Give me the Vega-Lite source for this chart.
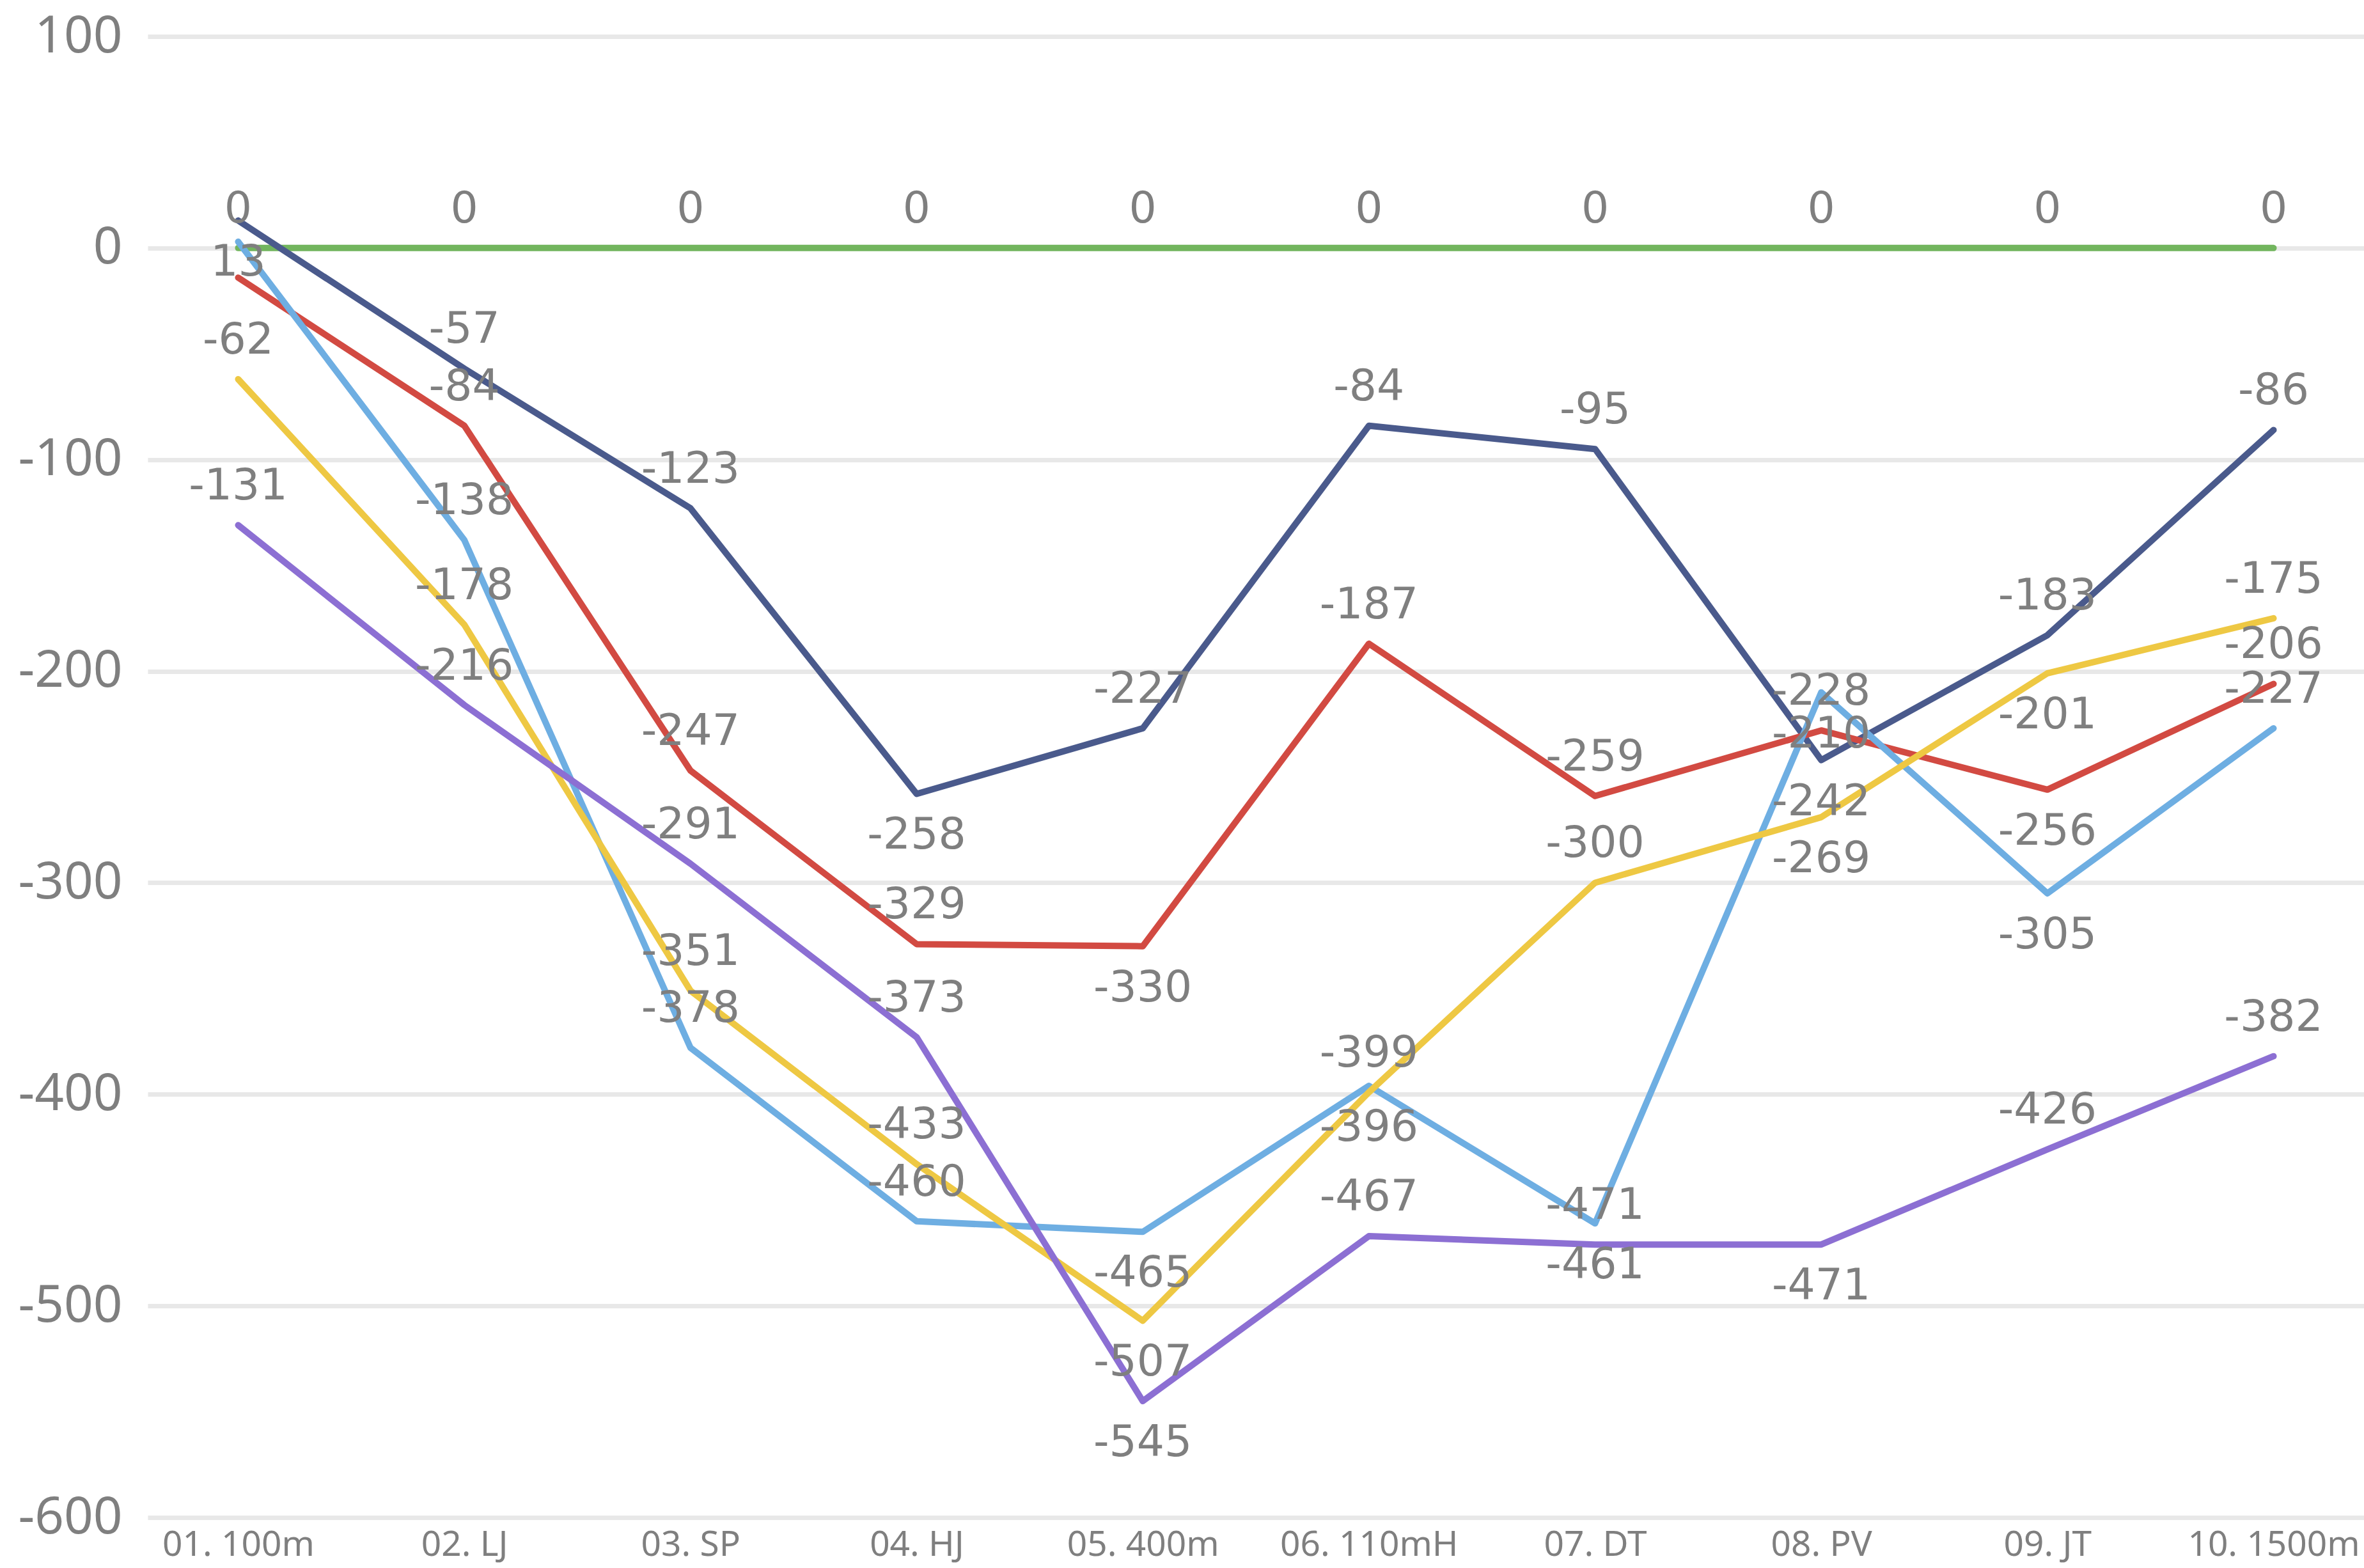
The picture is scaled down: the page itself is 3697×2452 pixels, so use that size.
{
  "$schema": "https://vega.github.io/schema/vega-lite/v6.json",
  "autosize": {"type": "none"},
  "width": 3466,
  "height": 2316,
  "padding": {"left": 231, "top": 57, "right": 0, "bottom": 79},
  "background": "white",
  "config": {"view": {"stroke": null}},
  "data": {"values": [
    {"event": "01. 100m", "series": "Series 1", "value": 0},
    {"event": "02. LJ", "series": "Series 1", "value": 0},
    {"event": "03. SP", "series": "Series 1", "value": 0},
    {"event": "04. HJ", "series": "Series 1", "value": 0},
    {"event": "05. 400m", "series": "Series 1", "value": 0},
    {"event": "06. 110mH", "series": "Series 1", "value": 0},
    {"event": "07. DT", "series": "Series 1", "value": 0},
    {"event": "08. PV", "series": "Series 1", "value": 0},
    {"event": "09. JT", "series": "Series 1", "value": 0},
    {"event": "10. 1500m", "series": "Series 1", "value": 0},
    {"event": "01. 100m", "series": "Series 2", "value": 13},
    {"event": "02. LJ", "series": "Series 2", "value": -57},
    {"event": "03. SP", "series": "Series 2", "value": -123},
    {"event": "04. HJ", "series": "Series 2", "value": -258},
    {"event": "05. 400m", "series": "Series 2", "value": -227},
    {"event": "06. 110mH", "series": "Series 2", "value": -84},
    {"event": "07. DT", "series": "Series 2", "value": -95},
    {"event": "08. PV", "series": "Series 2", "value": -242},
    {"event": "09. JT", "series": "Series 2", "value": -183},
    {"event": "10. 1500m", "series": "Series 2", "value": -86},
    {"event": "01. 100m", "series": "Series 3", "value": -14},
    {"event": "02. LJ", "series": "Series 3", "value": -84},
    {"event": "03. SP", "series": "Series 3", "value": -247},
    {"event": "04. HJ", "series": "Series 3", "value": -329},
    {"event": "05. 400m", "series": "Series 3", "value": -330},
    {"event": "06. 110mH", "series": "Series 3", "value": -187},
    {"event": "07. DT", "series": "Series 3", "value": -259},
    {"event": "08. PV", "series": "Series 3", "value": -228},
    {"event": "09. JT", "series": "Series 3", "value": -256},
    {"event": "10. 1500m", "series": "Series 3", "value": -206},
    {"event": "01. 100m", "series": "Series 4", "value": 3},
    {"event": "02. LJ", "series": "Series 4", "value": -138},
    {"event": "03. SP", "series": "Series 4", "value": -378},
    {"event": "04. HJ", "series": "Series 4", "value": -460},
    {"event": "05. 400m", "series": "Series 4", "value": -465},
    {"event": "06. 110mH", "series": "Series 4", "value": -396},
    {"event": "07. DT", "series": "Series 4", "value": -461},
    {"event": "08. PV", "series": "Series 4", "value": -210},
    {"event": "09. JT", "series": "Series 4", "value": -305},
    {"event": "10. 1500m", "series": "Series 4", "value": -227},
    {"event": "01. 100m", "series": "Series 5", "value": -62},
    {"event": "02. LJ", "series": "Series 5", "value": -178},
    {"event": "03. SP", "series": "Series 5", "value": -351},
    {"event": "04. HJ", "series": "Series 5", "value": -433},
    {"event": "05. 400m", "series": "Series 5", "value": -507},
    {"event": "06. 110mH", "series": "Series 5", "value": -399},
    {"event": "07. DT", "series": "Series 5", "value": -300},
    {"event": "08. PV", "series": "Series 5", "value": -269},
    {"event": "09. JT", "series": "Series 5", "value": -201},
    {"event": "10. 1500m", "series": "Series 5", "value": -175},
    {"event": "01. 100m", "series": "Series 6", "value": -131},
    {"event": "02. LJ", "series": "Series 6", "value": -216},
    {"event": "03. SP", "series": "Series 6", "value": -291},
    {"event": "04. HJ", "series": "Series 6", "value": -373},
    {"event": "05. 400m", "series": "Series 6", "value": -545},
    {"event": "06. 110mH", "series": "Series 6", "value": -467},
    {"event": "07. DT", "series": "Series 6", "value": -471},
    {"event": "08. PV", "series": "Series 6", "value": -471},
    {"event": "09. JT", "series": "Series 6", "value": -426},
    {"event": "10. 1500m", "series": "Series 6", "value": -382}
  ]},
  "transform": [
    {"calculate": "datum.series + '|' + datum.event", "as": "key"},
    {"calculate": "'' + datum.value", "as": "label"}
  ],
  "encoding": {
    "x": {
      "field": "event", "type": "ordinal",
      "scale": {"type": "point", "padding": 0.4},
      "axis": {"title": null, "labelAngle": 0, "labelFont": "Noto Sans", "labelFontSize": 55, "labelColor": "#7f7f7f", "labelLimit": 0, "ticks": false, "domain": false, "grid": false, "labelPadding": 16}
    },
    "y": {
      "field": "value", "type": "quantitative",
      "scale": {"domain": [-600, 100], "nice": false, "zero": false},
      "axis": {"title": null, "values": [-600, -500, -400, -300, -200, -100, 0, 100], "labelExpr": "'' + datum.value", "labelFont": "Noto Sans", "labelFontSize": 80, "labelColor": "#7f7f7f", "ticks": false, "domain": false, "grid": true, "gridColor": "#e8e8e8", "gridWidth": 7, "labelPadding": 40}
    }
  },
  "layer": [
    {
      "mark": {"type": "line", "strokeWidth": 10, "strokeCap": "round", "strokeJoin": "round"},
      "encoding": {
        "color": {
          "field": "series", "type": "nominal", "legend": null,
          "scale": {"domain": ["Series 1", "Series 2", "Series 3", "Series 4", "Series 5", "Series 6"],
                    "range": ["#72b55e", "#4a5a8c", "#d24a42", "#6eaee2", "#eec843", "#8c6fd3"]}
        }
      }
    },
    {
      "transform": [
        {"filter": "indexof(['Series 3|01. 100m','Series 4|01. 100m'], datum.key) < 0"},
        {"filter": "indexof(['Series 2|01. 100m','Series 2|04. HJ','Series 2|08. PV','Series 3|05. 400m','Series 3|09. JT','Series 4|05. 400m','Series 4|06. 110mH','Series 4|07. DT','Series 4|08. PV','Series 4|09. JT','Series 5|05. 400m','Series 5|08. PV','Series 5|09. JT','Series 6|05. 400m','Series 6|08. PV'], datum.key) < 0"}
      ],
      "mark": {"type": "text", "font": "DejaVu Sans", "fontSize": 68, "fill": "#7f7f7f", "baseline": "middle", "align": "center", "dy": -60},
      "encoding": {"text": {"field": "label", "type": "nominal"}}
    },
    {
      "transform": [
        {"filter": "indexof(['Series 2|01. 100m','Series 2|04. HJ','Series 2|08. PV','Series 3|05. 400m','Series 3|09. JT','Series 4|05. 400m','Series 4|06. 110mH','Series 4|07. DT','Series 4|08. PV','Series 4|09. JT','Series 5|05. 400m','Series 5|08. PV','Series 5|09. JT','Series 6|05. 400m','Series 6|08. PV'], datum.key) >= 0"}
      ],
      "mark": {"type": "text", "font": "DejaVu Sans", "fontSize": 68, "fill": "#7f7f7f", "baseline": "middle", "align": "center", "dy": 66},
      "encoding": {"text": {"field": "label", "type": "nominal"}}
    }
  ]
}
